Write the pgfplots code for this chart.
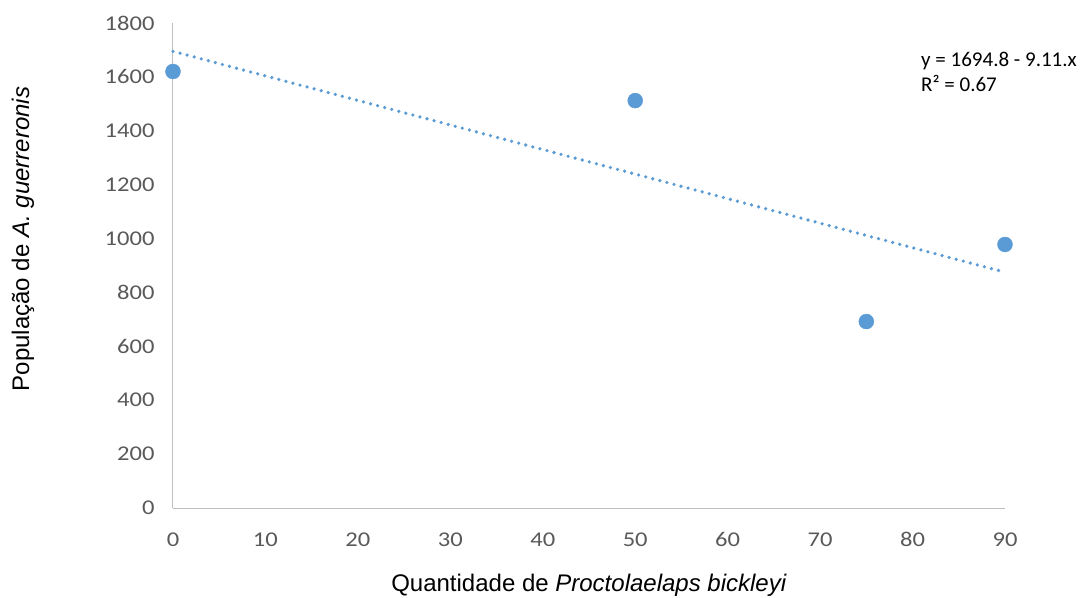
\documentclass[border=0pt]{standalone}
\usepackage{pgfplots}
\pgfplotsset{compat=1.18}
\usepackage{fontspec}
\setmainfont{Liberation Sans}
\newfontfamily\calib{Carlito}
\newfontfamily\calibwide[FakeStretch=1.17]{Carlito}
\definecolor{ptblue}{HTML}{5B9BD5}
\definecolor{axgray}{HTML}{BFBFBF}
\definecolor{tickgray}{HTML}{595959}
\begin{document}
\begin{tikzpicture}
\path[use as bounding box] (-173bp,-90bp) rectangle (914bp,508bp);
\begin{axis}[
  at={(0,0)}, anchor=south west,
  scale only axis,
  width=832bp, height=485bp,
  xmin=0, xmax=90, ymin=0, ymax=1800,
  xtick={0,10,...,90},
  ytick={0,200,...,1800},
  axis x line*=bottom, axis y line*=left,
  axis line style={axgray, line width=1pt, -},
  tick style={draw=none},
  /pgf/number format/assume math mode=true,
  /pgf/number format/set thousands separator={},
  tick label style={font=\calibwide\fontsize{21bp}{25bp}\selectfont, text=tickgray},
  xticklabel style={yshift=-21bp},
  yticklabel style={xshift=-15bp},
  xlabel={Quantidade de \textit{Proctolaelaps bickleyi}},
  ylabel={População de \textit{A. guerreronis}},
  label style={font=\fontsize{24bp}{28bp}\selectfont},
  xlabel style={at={(axis description cs:0.5,0)}, anchor=center, yshift=-77bp},
  every axis y label/.append style={at={(-150bp,269bp)}, anchor=center},
  clip=false,
]
\addplot[ptblue, line width=3.6bp, line cap=round, dash pattern=on 0pt off 7.3bp] coordinates {(0,1694.8) (90,874.9)};
\addplot[only marks, mark=*, mark size=7.5bp, mark options={fill=ptblue, draw=ptblue}] coordinates {
  (0,1620) (50,1512) (75,692) (90,978)
};
\node[anchor=north west, align=left, font=\calib\fontsize{21bp}{25bp}\selectfont, inner sep=0pt] at (rel axis cs:0,0) [xshift=748bp, yshift=456bp] {y = 1694.8 - 9.11.x\\R² = 0.67};
\end{axis}
\end{tikzpicture}
\end{document}
